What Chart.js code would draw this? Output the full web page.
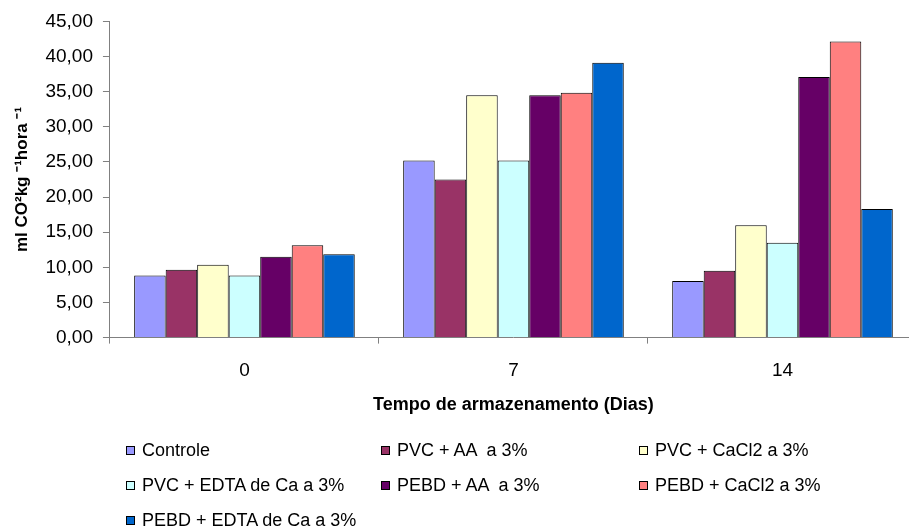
<!DOCTYPE html>
<html lang="pt">
<head>
  <meta charset="UTF-8">
  <title>Produção de CO2</title>
  <script src="https://cdn.jsdelivr.net/npm/chart.js"></script>
  <style>
    html, body { margin: 0; padding: 0; background: #fff; overflow: hidden; }
    #wrap { position: relative; width: 917px; height: 529px; }
    #box { position: absolute; left: 0; top: 0; width: 917px; height: 420px; }
    #legenda { position: absolute; left: 0; top: 0; width: 909px; height: 529px; pointer-events: none;
      font-family: "Liberation Sans", Arial, sans-serif; font-size: 18px; color: #000; }
    .q { position: absolute; width: 7px; height: 7px; border: 1px solid #000; }
    .t { position: absolute; white-space: pre; line-height: 20px; }
  </style>
</head>
<body>
<div id="wrap">
  <div id="box"><canvas id="grafico"></canvas></div>
  <div id="legenda"></div>
</div>
<script>
  // dados
  const categorias = ['0', '7', '14'];
  const controle   = [8.85, 25.2, 8.05];
  const pvcAA      = [9.65, 22.5, 9.5];
  const pvcCaCl2   = [10.35, 34.5, 16.0];
  const pvcEDTA    = [8.85, 25.2, 13.5];
  const pebdAA     = [11.5, 34.5, 37.1];
  const pebdCaCl2  = [13.15, 34.85, 42.15];
  const pebdEDTA   = [11.85, 39.1, 18.3];

  const nomes = ['Controle', 'PVC + AA  a 3%', 'PVC + CaCl2 a 3%', 'PVC + EDTA de Ca a 3%',
                 'PEBD + AA  a 3%', 'PEBD + CaCl2 a 3%', 'PEBD + EDTA de Ca a 3%'];
  const cores = ['#9999FF', '#993366', '#FFFFCC', '#CCFFFF', '#660066', '#FF8080', '#0066CC'];
  const series = [controle, pvcAA, pvcCaCl2, pvcEDTA, pebdAA, pebdCaCl2, pebdEDTA];

  const fonte = "'Liberation Sans', Arial, sans-serif";

  const ctx = document.getElementById('grafico').getContext('2d');
  const grafico = new Chart(ctx, {
    type: 'bar',
    data: {
      labels: categorias,
      datasets: series.map((s, i) => ({
        label: nomes[i],
        data: s,
        backgroundColor: cores[i],
        borderColor: '#000',
        borderWidth: 1,
        categoryPercentage: 0.82,
        barPercentage: 1.0
      }))
    },
    options: {
      responsive: true,
      maintainAspectRatio: false,
      animation: false,
      layout: { padding: { top: 20, left: 8, right: 0, bottom: 0 } },
      plugins: { legend: { display: false }, tooltip: { enabled: false } },
      scales: {
        x: {
          grid: { display: true, offset: true, drawOnChartArea: false, drawTicks: true, tickLength: 6, color: '#808080' },
          border: { display: true, color: '#808080', width: 1 },
          ticks: { color: '#000', font: { family: fonte, size: 19 }, padding: 16 },
          title: { display: true, text: 'Tempo de armazenamento (Dias)', color: '#000',
                   font: { family: fonte, size: 18, weight: 'bold' }, padding: { top: -4, bottom: 4 } }
        },
        y: {
          min: 0, max: 45,
          grid: { display: true, drawOnChartArea: false, drawTicks: true, tickLength: 7, color: '#808080' },
          border: { display: true, color: '#808080', width: 1 },
          ticks: { stepSize: 5, color: '#000', font: { family: fonte, size: 19 }, padding: 10,
                   callback: v => v.toFixed(2).replace('.', ',') },
          title: { display: true, text: 'ml CO²kg ⁻¹hora ⁻¹', color: '#000',
                   font: { family: fonte, size: 17, weight: 'bold' }, padding: { top: 4, bottom: 3 } }
        }
      }
    }
  });

  // legenda em três colunas
  const leg = document.getElementById('legenda');
  const colX = [126, 381, 639];
  const linY = [450, 485, 520];
  grafico.data.datasets.forEach((ds, i) => {
    const x = colX[i % 3], y = linY[Math.floor(i / 3)];
    const q = document.createElement('div');
    q.className = 'q';
    q.style.left = x + 'px';
    q.style.top = (y - 4) + 'px';
    q.style.background = ds.backgroundColor;
    const t = document.createElement('div');
    t.className = 't';
    t.style.left = (x + 16) + 'px';
    t.style.top = (y - 10) + 'px';
    t.textContent = ds.label;
    leg.appendChild(q);
    leg.appendChild(t);
  });
</script>
</body>
</html>
